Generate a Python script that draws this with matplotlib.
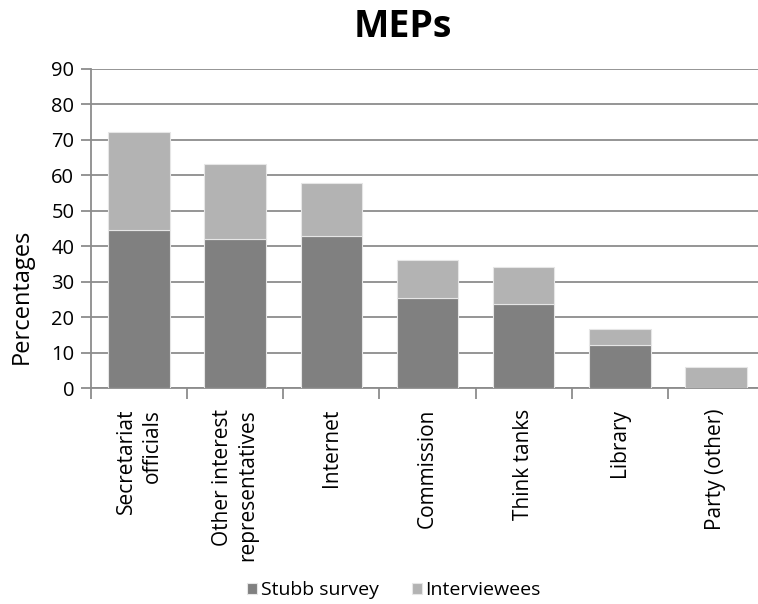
import numpy as np
import matplotlib.pyplot as plt

plt.rcParams['font.family'] = ['Open Sans', 'DejaVu Sans']

categories = ["Secretariat\nofficials", "Other interest\nrepresentatives", "Internet",
              "Commission", "Think tanks", "Library", "Party (other)"]
stubb_survey = [44.6, 42.1, 43.0, 25.3, 23.6, 12.0, 0.0]
interviewees = [27.5, 21.2, 14.9, 10.7, 10.5, 4.6, 5.9]

W, H = 758, 604
fig = plt.figure(figsize=(W / 100, H / 100), dpi=100)
ax = fig.add_axes([91 / W, 1 - 388 / H, (764 - 91) / W, (388 - 69) / H])

x = np.arange(len(categories))
ax.bar(x, stubb_survey, width=0.64, color="#808080", edgecolor="#e6e6e6",
       linewidth=0.8, label="Stubb survey", zorder=3)
ax.bar(x, interviewees, width=0.64, bottom=stubb_survey, color="#b3b3b3",
       edgecolor="#e6e6e6", linewidth=0.8, label="Interviewees", zorder=3)

ax.set_xlim(-0.5, len(categories) - 0.5)
ax.set_ylim(0, 90)
ax.set_yticks(range(0, 91, 10))
ax.yaxis.grid(True, color="#8c8c8c", linewidth=1.3, zorder=0)

# separators between categories drawn as outward major ticks
ax.set_xticks(np.arange(-0.5, len(categories), 1.0))
ax.set_xticklabels([])
ax.set_xticks(x, minor=True)
ax.set_xticklabels(categories, minor=True, rotation=90, ha="center", va="top",
                   multialignment="right", fontsize=15, linespacing=1.3)
ax.tick_params(axis="x", which="minor", length=0, pad=15)
ax.tick_params(axis="x", which="major", length=8, width=1.3, color="#8c8c8c",
               direction="out")
ax.tick_params(axis="y", length=7, width=1.3, color="#8c8c8c", labelsize=14.5,
               direction="out", pad=5)

for side in ["top", "right"]:
    ax.spines[side].set_visible(False)
for side in ["left", "bottom"]:
    ax.spines[side].set_color("#8c8c8c")
    ax.spines[side].set_linewidth(1.3)

fig.text(22 / W, 1 - 296 / H, "Percentages", fontsize=17, rotation=90,
         ha="center", va="center")
fig.text(403 / W, 1 - 37 / H, "MEPs", fontsize=27, fontweight="bold",
         ha="center", va="baseline")

fig.legend(loc="center", bbox_to_anchor=(394 / W, 1 - 590 / H), ncol=2,
           frameon=False, fontsize=14, handlelength=0.5, handleheight=0.5,
           handletextpad=0.2, columnspacing=1.7, borderpad=0)

fig.savefig("out.png", dpi=100)
